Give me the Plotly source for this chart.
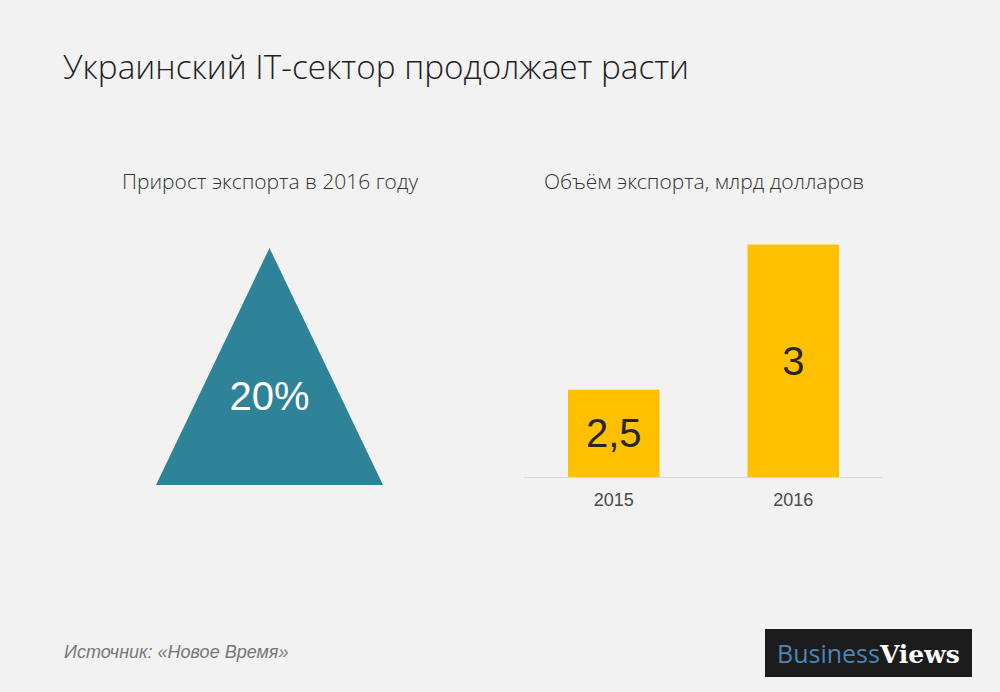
import plotly.graph_objects as go

# ---- data ----
years = ["2015", "2016"]
export_bn_usd = [2.5, 3.0]
growth_pct = 20

title = "Украинский IT-сектор продолжает расти"
left_subtitle = "Прирост экспорта в 2016 году"
right_subtitle = "Объём экспорта, млрд долларов"
source = "Источник: «Новое Время»"

BG = "#f2f2f2"
TEAL = "#2e8399"
YELLOW = "#ffc000"

W, H = 1000, 692
Y_MIN, Y_MAX = 2.2, 3.05

def px_x(x):
    return x / W

def px_y(y):
    return 1 - y / H

bar_labels = [f"{v:g}".replace(".", ",") for v in export_bn_usd]

fig = go.Figure()

# triangle pictogram (unit shape on its own axes)
fig.add_trace(go.Scatter(
    x=[0, 0.5, 1, 0], y=[0, 1, 0, 0],
    fill="toself", fillcolor=TEAL, mode="lines",
    line=dict(color=TEAL, width=0),
    xaxis="x2", yaxis="y2", hoverinfo="skip", showlegend=False,
))
fig.add_trace(go.Scatter(
    x=[0.5], y=[0.36], mode="text", text=[f"{growth_pct}%"],
    textfont=dict(family="Liberation Sans, Arial, sans-serif", size=40, color="white"),
    xaxis="x2", yaxis="y2", hoverinfo="skip", showlegend=False,
))

# bars (drawn from the axis floor up to each value)
fig.add_trace(go.Bar(
    x=years, y=[v - Y_MIN for v in export_bn_usd], base=[Y_MIN] * len(years),
    marker=dict(color=YELLOW, line=dict(width=0)),
    text=bar_labels, textposition="inside", insidetextanchor="middle",
    textfont=dict(family="Liberation Sans, Arial, sans-serif", size=40, color="#262626"),
    textangle=0, showlegend=False, hoverinfo="skip",
))

fig.update_layout(
    width=W, height=H,
    margin=dict(l=0, r=0, t=0, b=0),
    paper_bgcolor=BG, plot_bgcolor=BG,
    bargap=0.49,
    xaxis=dict(domain=[px_x(524), px_x(883)], showline=True, linecolor="#d9d9d9", linewidth=1,
               showgrid=False, zeroline=False, ticks="", ticklabelstandoff=6,
               tickfont=dict(family="Liberation Sans, Arial, sans-serif", size=18, color="#4a4a4a"),
               fixedrange=True),
    yaxis=dict(domain=[px_y(477), px_y(230)], range=[Y_MIN, Y_MAX], visible=False, fixedrange=True),
    xaxis2=dict(domain=[px_x(156), px_x(383)], range=[0, 1], visible=False, anchor="y2"),
    yaxis2=dict(domain=[px_y(485), px_y(248)], range=[0, 1], visible=False, anchor="x2"),
    shapes=[dict(type="rect", xref="paper", yref="paper",
                 x0=px_x(765), x1=px_x(972), y0=px_y(677), y1=px_y(629),
                 fillcolor="#1c1c1c", line=dict(width=0), layer="above")],
)

ann_font = "Open Sans, Noto Sans, sans-serif"
fig.add_annotation(text=title, xref="paper", yref="paper", x=px_x(61), y=px_y(66),
                   xanchor="left", yanchor="middle", showarrow=False,
                   font=dict(family=ann_font, size=33.3, color="#1f1f1f", weight=300))
fig.add_annotation(text=left_subtitle, xref="paper", yref="paper", x=px_x(270), y=px_y(181),
                   xanchor="center", yanchor="middle", showarrow=False,
                   font=dict(family=ann_font, size=21, color="#333333", weight=300))
fig.add_annotation(text=right_subtitle, xref="paper", yref="paper", x=px_x(704), y=px_y(181),
                   xanchor="center", yanchor="middle", showarrow=False,
                   font=dict(family=ann_font, size=21, color="#333333", weight=300))
fig.add_annotation(text=f"<i>{source}</i>", xref="paper", yref="paper", x=px_x(62), y=px_y(652),
                   xanchor="left", yanchor="middle", showarrow=False,
                   font=dict(family="Liberation Sans, Arial, sans-serif", size=18, color="#777777"))
fig.add_annotation(text="<span style='color:#4a86b8'>Business</span>"
                        "<span style='font-family:DejaVu Serif;font-weight:bold'>Views</span>",
                   xref="paper", yref="paper", x=px_x(868), y=px_y(653),
                   xanchor="center", yanchor="middle", showarrow=False,
                   font=dict(family="Open Sans, sans-serif", size=25, color="white"))

fig.write_html("out.html")
